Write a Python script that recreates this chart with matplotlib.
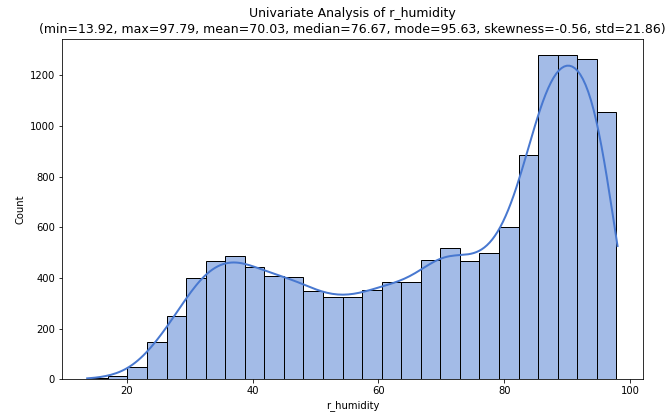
import numpy as np
import matplotlib
matplotlib.use("Agg")
import matplotlib.pyplot as plt
import seaborn as sns

col_name = "r_humidity"
x_min, x_max = 13.92, 97.79
n_bins = 27
# bar heights, left to right
counts = [4, 14, 47, 147, 251, 399, 466, 485, 444, 408, 403, 350, 325, 325,
          354, 383, 383, 472, 518, 466, 497, 600, 885, 1281, 1281, 1264, 1055]
stats = dict(mean=70.03, median=76.67, mode=95.63, skewness=-0.56, std=21.86)

edges = np.linspace(x_min, x_max, n_bins + 1)
centers = (edges[:-1] + edges[1:]) / 2
w = np.array(counts, dtype=float)
bw = 0.135
# extend the kde support from bin centres out to the full data range
wstd = np.sqrt(np.average((centers - np.average(centers, weights=w)) ** 2, weights=w))
cut = (centers[0] - x_min) / (bw * wstd)

fig = plt.figure(figsize=(665 / 72, 414 / 72), dpi=72)
ax = fig.add_axes([62 / 665, 1 - 379.3 / 414, (642.7 - 62) / 665, (379.3 - 38.5) / 414])

sns.histplot(x=centers, weights=counts, bins=n_bins, binrange=(x_min, x_max),
             kde=True, kde_kws={"bw_method": bw, "cut": cut},
             line_kws={"lw": 2},
             color="#4878d0", edgecolor="black", alpha=0.5, ax=ax)

ax.set_title("Univariate Analysis of {}\n(min={:.2f}, max={:.2f}, mean={:.2f}, median={:.2f}, "
             "mode={:.2f}, skewness={:.2f}, std={:.2f})".format(
                 col_name, x_min, x_max, stats["mean"], stats["median"], stats["mode"],
                 stats["skewness"], stats["std"]), fontsize=12.5)
ax.set_xlabel(col_name, fontsize=10)
ax.set_ylabel("Count", fontsize=10)
ax.tick_params(labelsize=10)
ax.set_xlim(x_min - 0.05 * (x_max - x_min), x_max + 0.05 * (x_max - x_min))

fig.savefig("out.png", dpi=72)
